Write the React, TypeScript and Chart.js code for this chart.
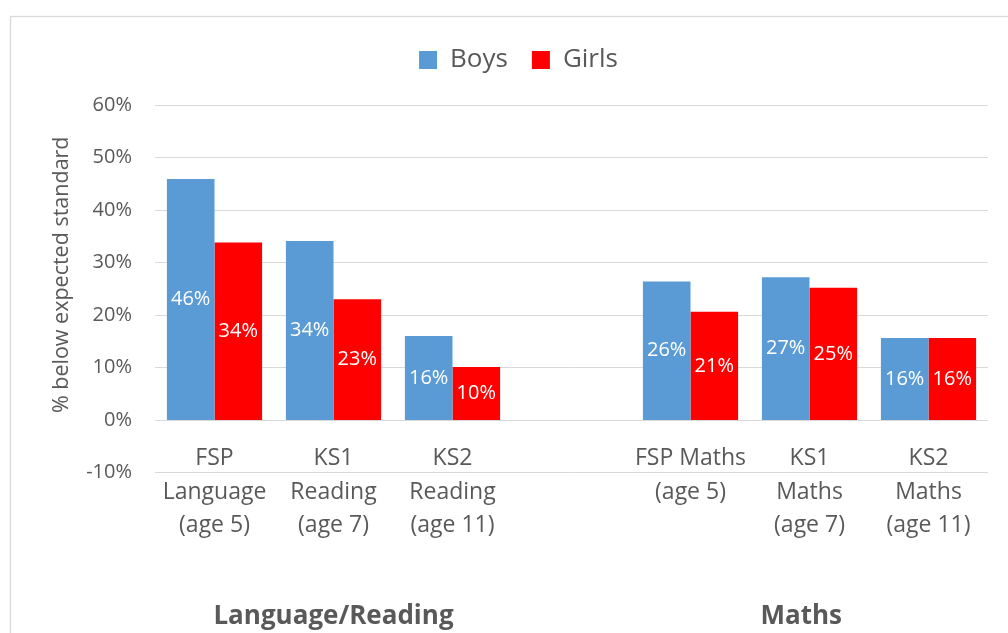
import React, { useEffect, useRef } from "react";
import { Chart, registerables } from "chart.js";

Chart.register(...registerables);

const categories: (string | string[])[] = [
  ["FSP", "Language", "(age 5)"],
  ["KS1", "Reading", "(age 7)"],
  ["KS2", "Reading", "(age 11)"],
  "",
  ["FSP Maths", "(age 5)"],
  ["KS1", "Maths", "(age 7)"],
  ["KS2", "Maths", "(age 11)"],
];

const boys: (number | null)[] = [0.459, 0.341, 0.16, null, 0.264, 0.272, 0.156];
const girls: (number | null)[] = [0.338, 0.23, 0.101, null, 0.206, 0.252, 0.156];

const groupLabels = ["Language/Reading", "Maths"];
const groupCenters = [1, 4.93];

const yTitle = "     % below expected standard";
const FONT = "'Open Sans', 'DejaVu Sans', sans-serif";
const GREY = "#595959";

const pct = (v: number) => Math.round(v * 100) + "%";

const chartBorder = {
  id: "chartBorder",
  beforeDraw(chart: any) {
    const ctx = chart.ctx;
    ctx.save();
    ctx.strokeStyle = "#d9d9d9";
    ctx.lineWidth = 1.3;
    ctx.strokeRect(10.5, 16.5, 2000, 2000);
    ctx.restore();
  },
};

const legendGap = {
  id: "legendGap",
  beforeLayout(chart: any) {
    const lg: any = chart.legend;
    if (lg && !lg.__gap) {
      const fit = lg.fit.bind(lg);
      lg.fit = function () {
        fit();
        this.height += 22;
      };
      lg.__gap = true;
    }
  },
};

const barLabels = {
  id: "barLabels",
  afterDatasetsDraw(chart: any) {
    const ctx = chart.ctx;
    ctx.save();
    ctx.font = `20px ${FONT}`;
    ctx.fillStyle = "#ffffff";
    ctx.textAlign = "center";
    ctx.textBaseline = "middle";
    chart.data.datasets.forEach((ds: any, di: number) => {
      const meta = chart.getDatasetMeta(di);
      meta.data.forEach((el: any, i: number) => {
        const v = ds.data[i];
        if (v === null || v === undefined) return;
        ctx.fillText(pct(v), el.x, (el.y + el.base) / 2);
      });
    });
    ctx.restore();
  },
};

const groupTitles = {
  id: "groupTitles",
  afterDraw(chart: any) {
    const ctx = chart.ctx;
    const xs = chart.scales.x;
    const ys = chart.scales.y;
    const y = ys.getPixelForValue(0) + 197;
    ctx.save();
    ctx.font = `bold 26px ${FONT}`;
    ctx.fillStyle = GREY;
    ctx.textAlign = "center";
    ctx.textBaseline = "middle";
    groupLabels.forEach((t, i) => {
      ctx.fillText(t, xs.getPixelForValue(groupCenters[i]), y);
    });
    ctx.restore();
  },
};

export default function App() {
  const ref = useRef<HTMLCanvasElement>(null);

  useEffect(() => {
    if (!ref.current) return;
    const chart = new Chart(ref.current, {
      type: "bar",
      data: {
        labels: categories as any,
        datasets: [
          {
            label: "Boys",
            data: boys,
            backgroundColor: "#5B9BD5",
            borderWidth: 0,
            categoryPercentage: 0.8,
            barPercentage: 1.0,
          },
          {
            label: "Girls",
            data: girls,
            backgroundColor: "#FF0000",
            borderWidth: 0,
            categoryPercentage: 0.8,
            barPercentage: 1.0,
          },
        ],
      },
      options: {
        responsive: false,
        animation: false,
        layout: { padding: { left: 49, right: 20, top: 23, bottom: 160.5 } },
        plugins: {
          tooltip: { enabled: false },
          legend: {
            position: "top",
            labels: {
              boxWidth: 18,
              boxHeight: 18,
              padding: 24,
              color: GREY,
              font: { family: FONT, size: 26 },
            },
          },
        },
        scales: {
          x: {
            position: { y: 0 } as any,
            grid: { display: false, drawTicks: false },
            border: { display: false },
            ticks: {
              autoSkip: false,
              maxRotation: 0,
              minRotation: 0,
              padding: 22,
              color: GREY,
              font: { family: FONT, size: 23, lineHeight: 1.456 },
            },
            afterFit(scale: any) {
              scale.height = 0;
            },
          },
          y: {
            min: -0.1,
            max: 0.6,
            grid: { color: "#d9d9d9", lineWidth: 1, drawTicks: false },
            border: { display: false },
            ticks: {
              stepSize: 0.1,
              padding: 23,
              color: GREY,
              font: { family: FONT, size: 20 },
              callback: (v: any) => pct(Number(v)),
            },
            title: {
              display: true,
              text: yTitle,
              color: GREY,
              font: { family: FONT, size: 21.5 },
              padding: { top: 0, bottom: 0 },
            },
            afterFit(scale: any) {
              scale.width = 106;
            },
          },
        },
      },
      plugins: [chartBorder, legendGap, barLabels, groupTitles],
    });
    return () => chart.destroy();
  }, []);

  return (
    <div style={{ position: "fixed", left: 0, top: 0, width: 1008, height: 633, background: "#fff" }}>
      <canvas ref={ref} width={1008} height={633} style={{ display: "block" }} />
    </div>
  );
}
